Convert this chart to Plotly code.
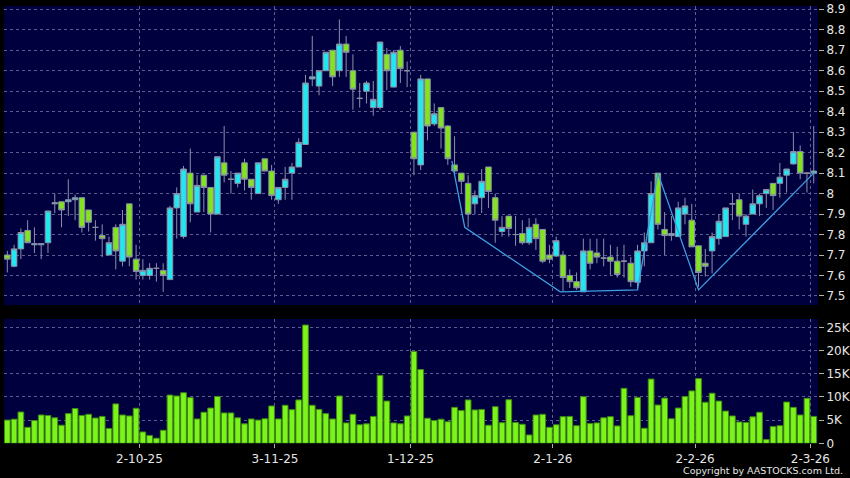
import plotly.graph_objects as go

# daily candles, 3 Sep 2025 .. 2 Mar 2026 (index 0..119)
opens = [7.70, 7.645, 7.73, 7.82, 7.75, 7.75, 7.76, 7.95, 7.96, 7.96,
         7.97, 7.98, 7.92, 7.835, 7.795, 7.70, 7.835, 7.67, 7.95, 7.68,
         7.60, 7.60, 7.635, 7.625, 7.58, 7.93, 7.79, 8.10, 7.91, 8.09,
         8.03, 7.90, 8.15, 8.07, 8.05, 8.15, 8.07, 8.00, 8.17, 8.11,
         7.97, 8.03, 8.10, 8.13, 8.24, 8.56, 8.525, 8.60, 8.70, 8.60,
         8.73, 8.60, 8.465, 8.50, 8.42, 8.42, 8.68, 8.52, 8.70, 8.60,
         8.30, 8.14, 8.56, 8.34, 8.42, 8.33, 8.14, 8.10, 8.05, 7.95,
         7.98, 8.13, 7.98, 7.815, 7.89, 7.80, 7.805, 7.76, 7.85, 7.825,
         7.70, 7.695, 7.70, 7.60, 7.57, 7.52, 7.72, 7.71, 7.685, 7.69,
         7.67, 7.67, 7.66, 7.567, 7.72, 7.76, 8.10, 7.825, 7.795, 7.79,
         7.90, 7.87, 7.745, 7.66, 7.72, 7.78, 7.79, 7.95, 7.97, 7.85,
         7.90, 7.95, 8.00, 8.05, 8.05, 8.09, 8.145, 8.205, 8.10, 8.10]
highs = [7.72, 7.75, 7.83, 7.87, 7.835, 7.755, 7.915, 8.00, 7.96, 8.07,
         7.995, 7.98, 7.92, 7.87, 7.85, 7.79, 7.85, 7.92, 7.95, 7.75,
         7.68, 7.66, 7.66, 7.66, 7.94, 8.03, 8.135, 8.22, 8.09, 8.09,
         8.03, 8.18, 8.33, 8.11, 8.10, 8.17, 8.07, 8.15, 8.17, 8.14,
         8.03, 8.13, 8.15, 8.27, 8.58, 8.77, 8.60, 8.69, 8.70, 8.85,
         8.77, 8.68, 8.54, 8.55, 8.55, 8.74, 8.71, 8.70, 8.72, 8.645,
         8.30, 8.58, 8.56, 8.44, 8.42, 8.335, 8.28, 8.10, 8.09, 8.015,
         8.12, 8.13, 8.00, 7.89, 7.89, 7.89, 7.87, 7.88, 7.88, 7.825,
         7.75, 7.79, 7.72, 7.63, 7.615, 7.78, 7.78, 7.78, 7.78, 7.75,
         7.74, 7.75, 7.69, 7.75, 7.81, 8.06, 8.10, 7.91, 7.89, 7.96,
         7.98, 7.95, 7.745, 7.73, 7.81, 7.90, 7.93, 8.00, 8.00, 7.90,
         8.02, 8.00, 8.02, 8.05, 8.15, 8.12, 8.30, 8.235, 8.10, 8.33]
lows = [7.615, 7.64, 7.68, 7.76, 7.71, 7.68, 7.71, 7.905, 7.835, 7.89,
        7.87, 7.81, 7.815, 7.77, 7.69, 7.70, 7.63, 7.645, 7.645, 7.58,
        7.58, 7.58, 7.57, 7.52, 7.58, 7.78, 7.78, 7.86, 7.91, 7.91,
        7.81, 7.90, 8.055, 8.00, 8.03, 8.015, 7.97, 8.00, 8.11, 7.97,
        7.95, 7.97, 7.97, 8.13, 8.24, 8.525, 8.48, 8.60, 8.525, 8.57,
        8.57, 8.41, 8.42, 8.44, 8.38, 8.41, 8.505, 8.52, 8.54, 8.52,
        8.09, 8.115, 8.26, 8.33, 8.22, 8.14, 8.10, 8.00, 7.835, 7.90,
        7.905, 7.93, 7.76, 7.79, 7.79, 7.745, 7.75, 7.75, 7.725, 7.66,
        7.66, 7.69, 7.52, 7.54, 7.53, 7.52, 7.63, 7.66, 7.645, 7.60,
        7.59, 7.59, 7.545, 7.53, 7.645, 7.76, 7.825, 7.70, 7.77, 7.79,
        7.85, 7.74, 7.545, 7.595, 7.61, 7.75, 7.79, 7.87, 7.825, 7.79,
        7.90, 7.89, 7.93, 7.92, 7.98, 8.005, 8.14, 8.07, 8.005, 8.05]
closes = [7.68, 7.73, 7.81, 7.76, 7.755, 7.755, 7.915, 7.955, 7.92, 7.97,
          7.98, 7.835, 7.86, 7.835, 7.78, 7.76, 7.72, 7.85, 7.69, 7.62,
          7.625, 7.635, 7.635, 7.60, 7.93, 8.00, 8.12, 7.95, 8.04, 8.03,
          7.90, 8.18, 8.09, 8.07, 8.10, 8.07, 8.03, 8.15, 8.11, 7.99,
          8.03, 8.07, 8.13, 8.25, 8.54, 8.57, 8.60, 8.69, 8.57, 8.73,
          8.69, 8.51, 8.465, 8.54, 8.46, 8.74, 8.60, 8.69, 8.61, 8.60,
          8.17, 8.56, 8.33, 8.39, 8.32, 8.17, 8.11, 8.06, 7.90, 7.99,
          8.06, 8.01, 7.87, 7.835, 7.83, 7.80, 7.76, 7.835, 7.78, 7.67,
          7.68, 7.77, 7.59, 7.57, 7.54, 7.72, 7.66, 7.69, 7.685, 7.67,
          7.605, 7.67, 7.57, 7.72, 7.76, 8.00, 7.85, 7.795, 7.805, 7.93,
          7.94, 7.74, 7.615, 7.645, 7.79, 7.865, 7.93, 7.95, 7.89, 7.89,
          7.95, 7.99, 8.02, 7.99, 8.08, 8.12, 8.205, 8.10, 8.10, 8.11]
# volume in thousands of shares
volume_k = [5.0, 5.2, 6.75, 3.45, 4.9, 6.1, 6.0, 5.5, 3.9, 6.4,
            7.5, 6.0, 6.25, 5.45, 5.8, 3.2, 8.5, 6.1, 5.9, 7.55,
            2.45, 1.7, 1.1, 2.8, 10.4, 10.2, 10.9, 9.85, 5.25, 6.7,
            7.6, 10.1, 6.55, 6.55, 5.5, 4.2, 5.25, 5.0, 5.3, 8.05,
            5.25, 8.2, 7.25, 9.35, 25.5, 8.2, 7.3, 6.4, 5.25, 10.2,
            4.4, 6.25, 4.0, 4.2, 5.8, 14.65, 9.1, 4.4, 4.2, 5.9,
            19.8, 15.9, 5.4, 4.9, 5.2, 4.65, 7.75, 7.05, 9.35, 7.2,
            7.3, 3.9, 7.9, 4.45, 9.4, 4.5, 4.1, 1.8, 6.1, 6.25,
            3.45, 4.0, 5.75, 5.8, 3.8, 10.05, 4.25, 4.4, 5.5, 5.75,
            3.75, 11.85, 5.95, 9.9, 3.25, 13.85, 8.25, 9.75, 5.3, 7.6,
            10.1, 11.3, 13.95, 8.85, 10.8, 9.1, 6.95, 5.9, 4.6, 4.5,
            5.7, 6.7, 0.8, 3.6, 3.8, 8.9, 7.75, 6.1, 9.7, 5.8]

# zigzag overlay (candle index, price)
zig_idx = [65.6, 67.5, 81.6, 93, 96, 102, 119]
zig_price = [8.16, 7.835, 7.52, 7.53, 8.10, 7.53, 8.10]

# month starts: grid sits on the left edge of that day's candle
month_idx = [20, 40, 60, 81, 102, 119]
month_labels = ["2-10-25", "3-11-25", "1-12-25", "2-1-26", "2-2-26", "2-3-26"]

price_ticks = [7.5, 7.6, 7.7, 7.8, 7.9, 8.0, 8.1, 8.2, 8.3, 8.4, 8.5, 8.6, 8.7, 8.8, 8.9]
price_labels = ["7.5", "7.6", "7.7", "7.8", "7.9", "8", "8.1", "8.2", "8.3", "8.4",
                "8.5", "8.6", "8.7", "8.8", "8.9"]
vol_ticks = [0, 5, 10, 15, 20, 25]
vol_labels = ["0", "5K", "10K", "15K", "20K", "25K"]

idx = list(range(len(closes)))
grid_x = [m - 0.5 for m in month_idx]

W, H = 850, 478
GRID = "#5c5c8e"
TXT = dict(family="DejaVu Sans", size=12, color="#e6e6e6")

fig = go.Figure()

fig.add_trace(go.Candlestick(
    x=idx, open=opens, high=highs, low=lows, close=closes,
    increasing=dict(fillcolor="#22e6f0", line=dict(color="#8a90a8", width=1)),
    decreasing=dict(fillcolor="#82e41e", line=dict(color="#8a90a8", width=1)),
    whiskerwidth=0, showlegend=False, xaxis="x", yaxis="y",
))

fig.add_trace(go.Scatter(
    x=zig_idx, y=zig_price, mode="lines",
    line=dict(color="#3d9ee0", width=1.3),
    showlegend=False, xaxis="x", yaxis="y",
))

fig.add_trace(go.Bar(
    x=idx, y=volume_k,
    marker=dict(color="#7cf41c", line=dict(color="#3f8a12", width=1)),
    showlegend=False, xaxis="x2", yaxis="y2",
))

xdom = [4 / W, 818 / W]
xrange = [-0.49, 119.63]

fig.update_layout(
    width=W, height=H,
    margin=dict(l=0, r=0, t=0, b=0),
    paper_bgcolor="#000000",
    plot_bgcolor="#00003e",
    boxgap=0.18,
    boxgroupgap=0,
    bargap=0.16,
    font=TXT,
    xaxis=dict(
        domain=xdom, range=xrange, anchor="y",
        rangeslider=dict(visible=False),
        tickvals=grid_x, showticklabels=False, ticks="",
        showgrid=True, gridcolor=GRID, griddash="3px,3px", gridwidth=1,
        zeroline=False, fixedrange=True,
    ),
    yaxis=dict(
        domain=[1 - 305 / H, 1 - 6 / H], range=[7.456, 8.916], anchor="x",
        side="right", tickvals=price_ticks, ticktext=price_labels,
        ticks="outside", ticklen=5, tickcolor="#b0b0b0",
        showgrid=True, gridcolor=GRID, griddash="3px,3px", gridwidth=1,
        zeroline=False, showline=False, automargin=False,
    ),
    xaxis2=dict(
        domain=xdom, range=xrange, anchor="y2",
        tickvals=grid_x, ticktext=month_labels,
        ticks="outside", ticklen=4, tickcolor="#b0b0b0",
        showgrid=True, gridcolor=GRID, griddash="3px,3px", gridwidth=1,
        zeroline=False, automargin=False,
    ),
    yaxis2=dict(
        domain=[1 - 443.3 / H, 1 - 319 / H], range=[0, 26.8], anchor="x2",
        side="right", tickvals=vol_ticks, ticktext=vol_labels,
        ticks="outside", ticklen=5, tickcolor="#b0b0b0",
        showgrid=True, gridcolor=GRID, griddash="3px,3px", gridwidth=1,
        zeroline=False, automargin=False,
    ),
)

fig.add_annotation(
    text="Copyright by AASTOCKS.com Ltd.",
    xref="paper", yref="paper", x=845 / W, y=(H - 470) / H,
    xanchor="right", yanchor="middle", showarrow=False,
    font=dict(family="DejaVu Sans", size=9.5, color="#e6e6e6"),
)

# the page's default body margin would push the fixed-size figure off the window
fig.write_html(
    "out.html",
    config={"displayModeBar": False},
    post_script="document.body.style.margin='0';",
)
